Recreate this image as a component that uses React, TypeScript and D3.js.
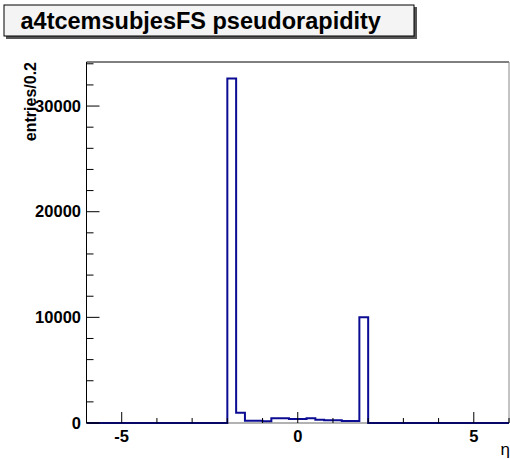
import React from "react";
import * as d3 from "d3";

const binEdgesStart = -6;
const binWidth = 0.25;
// 48 bins of width 0.25 from -6 to 6
const counts: number[] = [
  0, 0, 0, 0, 0, 0, 0, 0, 0, 0, 0, 0, 0, 0, 0, 0,
  32600, 975, 220, 220, 160, 440, 440, 380, 380, 440, 310, 250, 250, 190, 190, 10000,
  0, 0, 0, 0, 0, 0, 0, 0, 0, 0, 0, 0, 0, 0, 0, 0,
];
const xMajorTicks = [-5, 0, 5];
const xMinorTicks = [-6, -4, -3, -2, -1, 1, 2, 3, 4, 6];
const yMajorTicks = [0, 10000, 20000, 30000];
const yMinorTicks = [2000, 4000, 6000, 8000, 12000, 14000, 16000, 18000, 22000, 24000, 26000, 28000, 32000, 34000];
const title = "a4tcemsubjesFS pseudorapidity";
const yTitle = "entries/0.2";
const xTitle = "η";

export default function App() {
  const W = 510, H = 459;
  const left = 86.5, right = 509, top = 62, bottom = 423;
  const x = d3.scaleLinear().domain([-6, 6]).range([left, right]);
  const y = d3.scaleLinear().domain([0, 34170]).range([bottom, top]);

  const pts: [number, number][] = [];
  counts.forEach((c, i) => {
    const x0 = binEdgesStart + i * binWidth;
    pts.push([x0, c]);
    pts.push([x0 + binWidth, c]);
  });
  const line = d3.line<[number, number]>().x(d => x(d[0])).y(d => y(d[1]));
  const font = "'Liberation Sans', Arial, Helvetica, sans-serif";

  return (
    <svg width={W} height={H} style={{ position: "absolute", left: 0, top: 0, background: "#fff" }} fontFamily={font}>
      {/* title box */}
      <rect x={6} y={7} width={411} height={32} fill="#555" />
      <rect x={4} y={5} width={410} height={31} fill="#f4f4f4" stroke="#000" strokeWidth={1} />
      <text x={20.5} y={28.5} fontSize={23.5} fontWeight="bold" fill="#000">{title}</text>

      {/* frame */}
      <line x1={left} y1={top} x2={right} y2={top} stroke="#000" strokeWidth={1} />
      <line x1={right} y1={top} x2={right} y2={bottom} stroke="#888" strokeWidth={1} />

      {/* histogram */}
      <path d={line(pts) || ""} fill="none" stroke="#0b0b94" strokeWidth={2} />

      {/* axes */}
      <line x1={left} y1={top} x2={left} y2={bottom} stroke="#000" strokeWidth={1} />
      <line x1={left} y1={bottom} x2={right} y2={bottom} stroke="#000" strokeWidth={1} opacity={0.6} />
      {yMajorTicks.map(t => (
        <g key={"ym" + t}>
          <line x1={left} x2={left + 13} y1={y(t)} y2={y(t)} stroke="#000" />
          <text x={81} y={y(t)} dy="0.35em" textAnchor="end" fontSize={16.5} fontWeight="bold">{t}</text>
        </g>
      ))}
      {yMinorTicks.map(t => (
        <line key={"yn" + t} x1={left} x2={left + 7} y1={y(t)} y2={y(t)} stroke="#000" />
      ))}
      {xMajorTicks.map(t => (
        <g key={"xm" + t}>
          <line x1={x(t)} x2={x(t)} y1={bottom} y2={bottom - 11} stroke="#000" />
          <text x={x(t)} y={442} textAnchor="middle" fontSize={16.5} fontWeight="bold">{t}</text>
        </g>
      ))}
      {xMinorTicks.map(t => (
        <line key={"xn" + t} x1={x(t)} x2={x(t)} y1={bottom} y2={bottom - 5} stroke="#000" />
      ))}

      {/* axis titles */}
      <text transform={`translate(36,62) rotate(-90)`} textAnchor="end" fontSize={16} fontWeight="bold">{yTitle}</text>
      <text x={510} y={455} textAnchor="end" fontSize={17} fill="#000">{xTitle}</text>
    </svg>
  );
}
